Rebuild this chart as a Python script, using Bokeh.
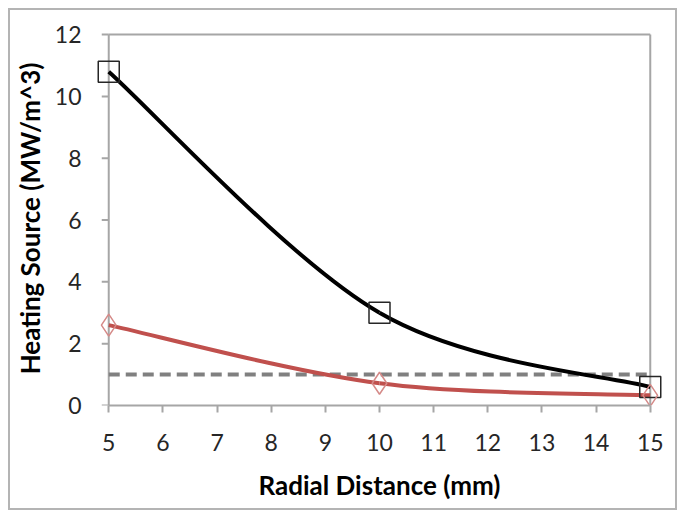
import numpy as np
from bokeh.plotting import figure
from bokeh.embed import file_html
from bokeh.resources import INLINE
from bokeh.models import Range1d, FixedTicker

# Data
radial_mm = [5, 10, 15]
heat_black = [10.8, 3.0, 0.6]
heat_red = [2.6, 0.72, 0.33]
threshold = 1.0
x_ticks = list(range(5, 16))
y_ticks = [0, 2, 4, 6, 8, 10, 12]

FONT = "Lato"
GRAY = "#a6a6a6"

p = figure(width=669, height=502, output_backend="svg", toolbar_location=None,
           x_range=Range1d(4.7, 15.3), y_range=Range1d(0, 12.1),
           min_border_left=81, min_border_right=13, min_border_top=21, min_border_bottom=107)
p.margin = (8, 0, 0, 8)
p.styles = {"border": "2px solid #b4b4b4"}

p.xgrid.visible = False
p.ygrid.visible = False
p.outline_line_color = None


def smooth_segments(xs, ys):
    xs = np.asarray(xs, float)
    ys = np.asarray(ys, float)
    n = len(xs)
    x0, y0, x1, y1, cx0, cy0, cx1, cy1 = [], [], [], [], [], [], [], []
    for i in range(n - 1):
        im = max(i - 1, 0)
        ip2 = min(i + 2, n - 1)
        x0.append(xs[i]); y0.append(ys[i])
        x1.append(xs[i + 1]); y1.append(ys[i + 1])
        cx0.append(xs[i] + (xs[i + 1] - xs[im]) / 6)
        cy0.append(ys[i] + (ys[i + 1] - ys[im]) / 6)
        cx1.append(xs[i + 1] - (xs[ip2] - xs[i]) / 6)
        cy1.append(ys[i + 1] - (ys[ip2] - ys[i]) / 6)
    return dict(x0=x0, y0=y0, x1=x1, y1=y1, cx0=cx0, cy0=cy0, cx1=cx1, cy1=cy1)

xmin, xmax = x_ticks[0], x_ticks[-1]
ymin, ymax = y_ticks[0], y_ticks[-1]

# plot-area border: left axis line at x=5, top at y=12, right at x=15
p.segment(x0=[xmin, xmin, xmax], y0=[ymin, ymax, ymin],
          x1=[xmin, xmax, xmax], y1=[ymax, ymax, ymax],
          line_color=GRAY, line_width=2)
# y-axis outward ticks at the x=5 axis line
p.ray(x=[xmin] * len(y_ticks), y=y_ticks, length=7, length_units="screen",
      angle=np.pi, line_color=GRAY, line_width=2)

# threshold dashed line
p.line([radial_mm[0], radial_mm[-1]], [threshold, threshold], line_color="#808080",
       line_width=4, line_dash="11 6")

sb = smooth_segments(radial_mm, heat_black)
p.bezier(**sb, line_color="black", line_width=4)
sr = smooth_segments(radial_mm, heat_red)
p.bezier(**sr, line_color="#c0504d", line_width=4)

p.scatter(radial_mm, heat_black, marker="square", size=21, fill_color=None,
          line_color="#262626", line_width=1.5)
p.scatter(radial_mm, heat_red, marker="diamond", size=22, fill_color=None,
          line_color="#d58a88", line_width=1.5)

for ax in (p.xaxis[0], p.yaxis[0]):
    ax.axis_line_color = GRAY
    ax.axis_line_width = 2
    ax.major_tick_line_color = GRAY
    ax.major_tick_line_width = 2
    ax.major_tick_out = 7
    ax.major_tick_in = 0
    ax.minor_tick_line_color = None
    ax.major_label_text_font = FONT
    ax.major_label_text_font_size = "23px"
    ax.major_label_text_color = "#262626"
    ax.axis_label_text_font = FONT
    ax.axis_label_text_font_style = "bold"
    ax.axis_label_text_font_size = "26px"
    ax.axis_label_text_color = "black"

p.yaxis.axis_line_color = None
p.yaxis.major_tick_line_color = None
p.yaxis.major_tick_out = 0

p.xaxis.ticker = FixedTicker(ticks=x_ticks)
p.yaxis.ticker = FixedTicker(ticks=y_ticks)
p.xaxis.bounds = (xmin, xmax)
p.xaxis.axis_label = "Radial Distance (mm)"
p.yaxis.axis_label = "Heating Source (MW/m^3)"
p.xaxis.major_label_standoff = 21
p.yaxis.major_label_standoff = 11
p.xaxis.axis_label_standoff = 15
p.yaxis.axis_label_standoff = 6

open("out.html", "w").write(file_html(p, INLINE))
